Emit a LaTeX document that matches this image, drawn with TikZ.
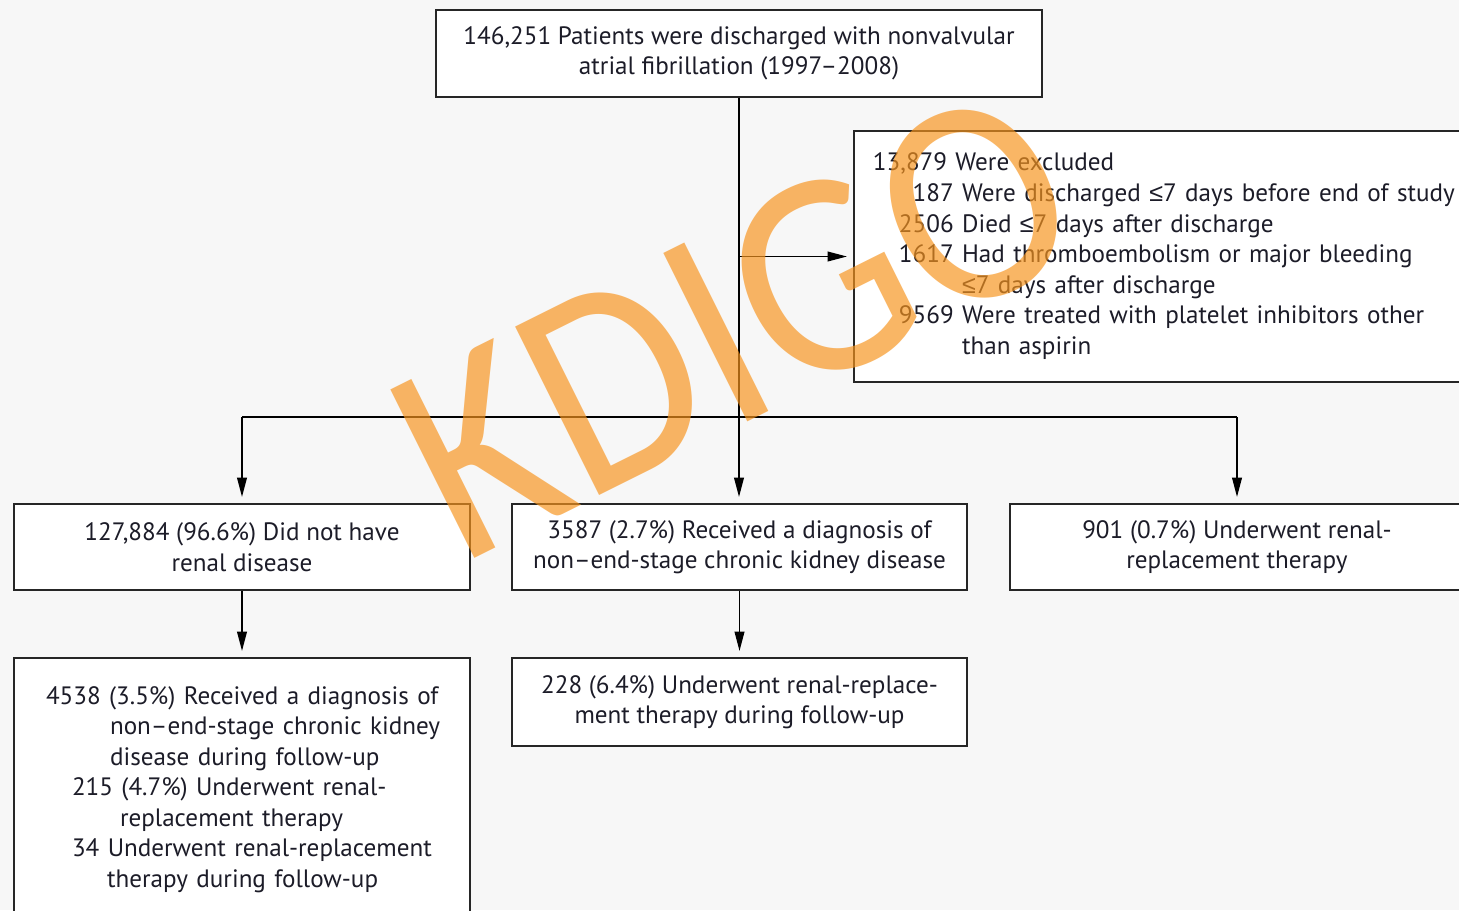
\documentclass[tikz,border=0pt]{standalone}
\usepackage{fontspec}
\setmainfont{PT Sans}
\newfontfamily\markfont{Carlito}
\newfontfamily\symfont{Liberation Sans}
\newcommand\lesym{{\symfont ≤}}
\usetikzlibrary{arrows.meta}
\definecolor{bgray}{HTML}{F7F7F7}
\definecolor{ink}{HTML}{1C1C28}
\definecolor{kdigo}{HTML}{F7941D}

\begin{document}
\begin{tikzpicture}[x=0.02cm, y=0.02cm]
\tikzstyle{every node}+=[font=\fontsize{14.3}{17.4}\selectfont, text=ink]
\tikzstyle{box}=[draw=black!85, line width=1.1pt, fill=white, inner xsep=0pt, inner ysep=0pt, align=center]
\tikzstyle{link}=[black, line width=0.75pt]
\tikzstyle{arr}=[link, -{Triangle[length=11pt,width=5.6pt]}, shorten >=3.5pt]
\tikzstyle{watermark}=[text=kdigo, opacity=0.68, rotate=26.5, xscale=0.9, inner sep=0pt, font=\markfont\fontsize{167}{170}\selectfont]
\clip (0,0) rectangle (1459,-910);
\fill [bgray] (0,0) rectangle (1459,-910);
\node [box, minimum width=12.12cm, minimum height=1.74cm] (pat) at (739,-53.5) {146,251 Patients were discharged with nonvalvular\\atrial fibrillation (1997--2008)};
\node [box, anchor=west, text width=11.58cm, inner xsep=0.38cm, minimum height=5.02cm, align=left] (excl) at (853,-256.5) {\begin{tabular}{@{\hspace{0.52cm}}r@{ }l@{}}
\multicolumn{2}{@{}l}{13,879 Were excluded}\\
187 & Were discharged \lesym7 days before end of study\\
2506 & Died \lesym7 days after discharge\\
1617 & Had thromboembolism or major bleeding\\
 & \lesym7 days after discharge\\
9569 & Were treated with platelet inhibitors other\\
 & than aspirin
\end{tabular}};
\node [box, minimum width=9.12cm, minimum height=1.72cm] (nore) at (242,-547) {127,884 (96.6\%) Did not have\\renal disease};
\node [box, minimum width=9.1cm, minimum height=1.72cm] (ckd) at (739.5,-547) {3587 (2.7\%) Received a diagnosis of\\non--end-stage chronic kidney disease};
\node [box, minimum width=9.08cm, minimum height=1.72cm] (rrt) at (1237,-547) {901 (0.7\%) Underwent renal-\\replacement therapy};
\node [box, text width=9.12cm, minimum height=5.26cm, align=left] (later) at (242,-789.5) {\hspace*{0.64cm}4538 (3.5\%) Received a diagnosis of\\
\hspace*{1.92cm}non--end-stage chronic kidney\\
\hspace*{1.92cm}disease during follow-up\\
\hspace*{1.16cm}215 (4.7\%) Underwent renal-\\
\hspace*{2.12cm}replacement therapy\\
\hspace*{1.16cm}34 Underwent renal-replacement\\
\hspace*{1.86cm}therapy during follow-up};
\node [box, minimum width=9.1cm, minimum height=1.76cm] (ckdrrt) at (739.5,-702) {228 (6.4\%) Underwent renal-replace-\\ment therapy during follow-up};
\coordinate (split) at (739,-417);
\draw [arr] (pat.south) -- (pat.south |- ckd.north);
\draw [arr] (pat.south |- excl.west) -- (excl.west);
\draw [link] (nore.north |- split) -- (rrt.north |- split);
\draw [arr] (nore.north |- split) -- (nore.north);
\draw [arr] (rrt.north |- split) -- (rrt.north);
\draw [arr] (nore.south) -- (later.north);
\draw [arr] (ckd.south) -- (ckdrrt.north);
\node [watermark] (mark) at (735,-323) {KDIGO};
\end{tikzpicture}
\end{document}
